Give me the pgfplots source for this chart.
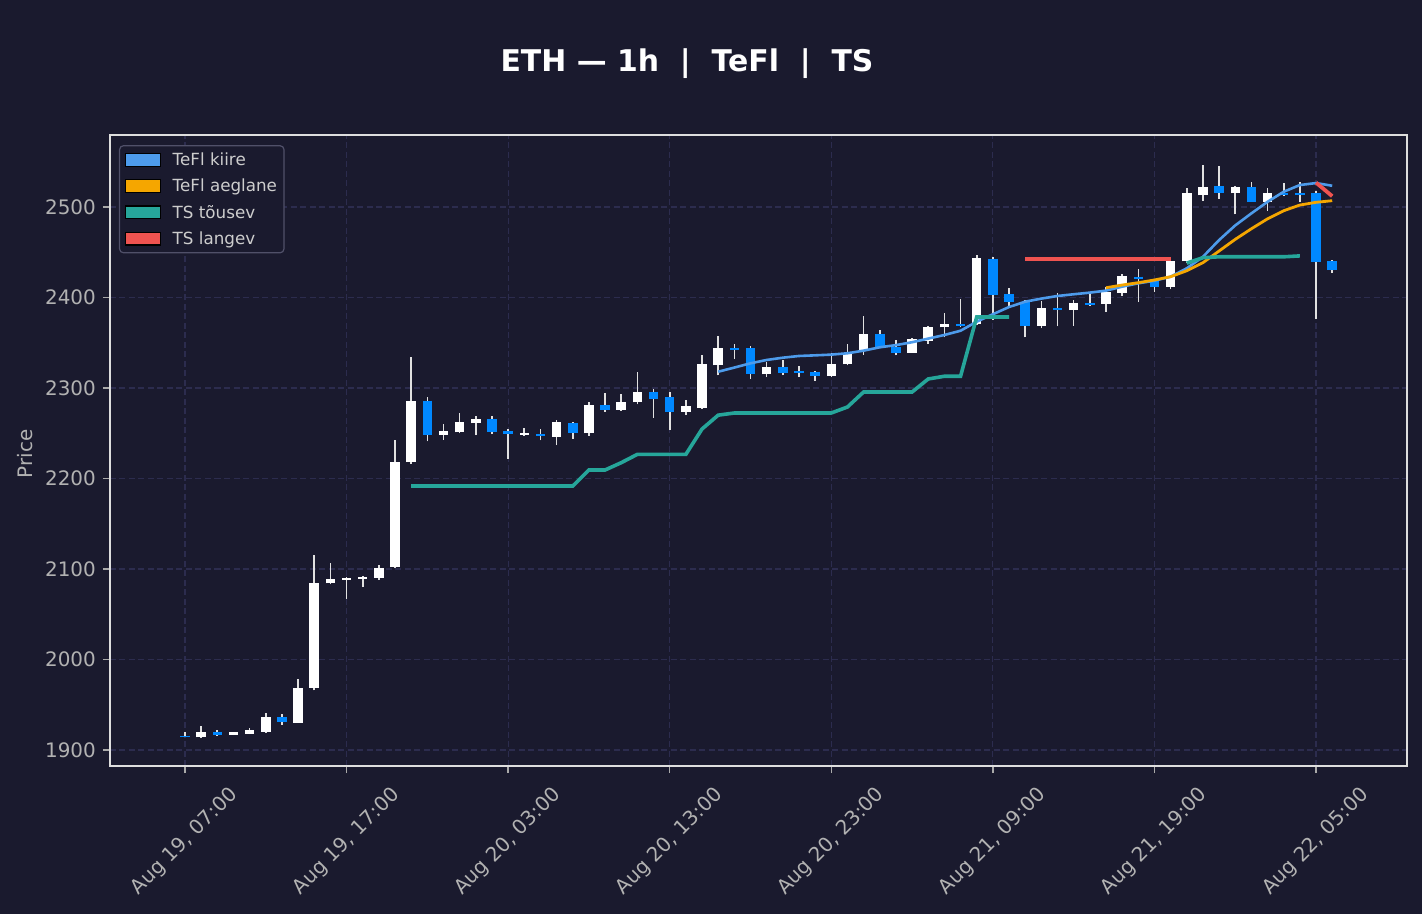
\documentclass[border=0pt]{standalone}
\usepackage{fontspec}
\setmainfont{DejaVu Sans}
\usepackage{pgfplots}
\usepackage{pgfplotstable}
\pgfplotsset{compat=1.18}

\definecolor{bgcol}{RGB}{26,26,46}
\definecolor{gridcol}{RGB}{44,44,78}
\definecolor{framecol}{RGB}{222,222,222}
\definecolor{tickcol}{RGB}{170,170,170}
\definecolor{labelcol}{RGB}{178,178,178}
\definecolor{upcol}{RGB}{255,255,255}
\definecolor{downcol}{RGB}{0,136,255}
\definecolor{wickcol}{RGB}{225,225,225}
\definecolor{fastcol}{RGB}{77,155,235}
\definecolor{slowcol}{RGB}{245,166,0}
\definecolor{tsupcol}{RGB}{38,166,154}
\definecolor{tsdncol}{RGB}{239,83,80}
\definecolor{legframe}{RGB}{80,80,105}
\definecolor{legtext}{RGB}{205,205,205}

% hourly candles, i = hours since Aug 19 07:00
\pgfplotstableread{
i o h l c
1 1914 1927 1913 1920
3 1917 1920 1916.5 1919.5
4 1918 1924 1917.5 1922
5 1920 1941 1919 1937
7 1930 1978 1930 1969
8 1969 2116 1966 2085
9 2084 2107 2083 2089
10 2088 2091 2067 2090.5
11 2089 2092 2080 2091.5
12 2090.5 2104 2088 2101.5
13 2102 2243 2101 2218
14 2218 2334 2216 2286
16 2248 2260 2243 2252
17 2251 2272 2250 2262
18 2261 2269 2248 2266
21 2248.5 2256 2247 2250.5
23 2246 2265 2237 2262
25 2250 2284 2247 2281
27 2276 2293 2275 2284
28 2284 2318 2282 2296
31 2274 2287 2270 2280
32 2278 2336 2277 2326
33 2325 2357 2314 2344
36 2315 2329 2312 2323
40 2313 2339 2312 2327
41 2326 2349 2325 2339
42 2341 2380 2337 2360
45 2339 2355 2339 2354
46 2352 2368 2349 2367
47 2367 2383 2356 2371
49 2371 2447 2370 2444
53 2369 2396 2366 2388
55 2386 2397 2369 2394
57 2393 2412 2384 2406
58 2405 2426 2402 2424
61 2412 2445 2409 2440
62 2440 2521 2438 2515
63 2513 2546 2507 2522
65 2515 2523 2492 2522
67 2506 2521 2496 2515
}\upcandles

\pgfplotstableread{
i o h l c
0 1916 1919.5 1914 1914
2 1920 1922 1916 1917
6 1936 1940 1928 1931
15 2286 2290 2241 2248
19 2266 2269 2249 2251
20 2252.5 2255 2222 2249
22 2249 2255 2242 2247
24 2261 2262 2244 2250
26 2281 2294 2274 2276
29 2296 2299 2267 2288
30 2290 2296 2254 2273
34 2344 2349 2332 2342
35 2344 2346 2310 2315
37 2323 2331 2314 2317
38 2319 2324 2312 2317
39 2318 2319 2308 2313
43 2360 2364 2344 2345
44 2345 2353 2336 2339
48 2371 2398 2367 2368
50 2443 2445 2375 2403
51 2404 2410 2391 2395
52 2395 2397 2356 2369
54 2388 2405 2368 2386
56 2394 2406 2391 2392
59 2423 2431 2395 2420
60 2419 2421 2406 2412
64 2523 2545 2509 2515
66 2522 2528 2506 2506
68 2515 2527 2512 2513
69 2515 2528 2506 2513
70 2515 2518 2376 2439
71 2440 2442 2427 2430
}\downcandles

\begin{document}
\begin{tikzpicture}
\fill[bgcol] (-110bp,-148bp) rectangle (1312bp,766bp);
\begin{axis}[
    at={(0,0)}, anchor=south west,
    scale only axis, width=1297bp, height=631bp,
    xmin=-4.64, xmax=75.63,
    ymin=1882.3, ymax=2579.6,
    axis background/.style={fill=bgcol},
    axis line style={draw=framecol, line width=1.7bp},
    tick align=outside, major tick length=7bp,
    tick style={draw=tickcol, line width=1.3bp},
    xtick pos=bottom, ytick pos=left,
    grid=major,
    major grid style={draw=gridcol, line width=1.2bp, dash pattern=on 6bp off 3.5bp},
    xtick={0,10,...,70},
    xticklabels={{Aug 19, 07:00},{Aug 19, 17:00},{Aug 20, 03:00},{Aug 20, 13:00},
                 {Aug 20, 23:00},{Aug 21, 09:00},{Aug 21, 19:00},{Aug 22, 05:00}},
    ytick={1900,2000,...,2500},
    /pgf/number format/1000 sep={},
    /pgf/number format/assume math mode=true,
    xticklabel style={font=\fontsize{20}{24}\selectfont, text=labelcol,
        inner sep=0pt, xshift=43bp, yshift=-12bp, rotate=45, anchor=north east},
    yticklabel style={font=\fontsize{20}{24}\selectfont, text=labelcol,
        inner sep=0pt, anchor=east, xshift=-7bp},
    ylabel={Price},
    every axis y label/.style={at={(axis description cs:-0.0655,0.4945)},
        rotate=90, anchor=center, font=\fontsize{20}{24}\selectfont, text=labelcol},
    legend style={at={(0.0069,0.984)}, anchor=north west,
        draw=legframe, line width=1.2bp, fill=bgcol, rounded corners=4bp,
        text=legtext, font=\fontsize{16.8}{20.5}\selectfont,
        inner xsep=5bp, inner ysep=5bp, row sep=8bp,
        cells={anchor=west}, nodes={inner sep=2bp},
        /tikz/every odd column/.append style={column sep=10bp}},
    legend image code/.code={\fill[sharp corners, #1] (0bp,-6.3bp) rectangle (35bp,6.3bp);},
    clip=true,
]
% wicks
\addplot[wickcol, line width=1.6bp, forget plot,
    quiver={u=0, v=\thisrow{h}-\thisrow{l}}] table[x=i, y=l] {\upcandles};
\addplot[wickcol, line width=1.6bp, forget plot,
    quiver={u=0, v=\thisrow{h}-\thisrow{l}}] table[x=i, y=l] {\downcandles};
% bodies
\addplot[upcol, line width=9.5bp, forget plot,
    quiver={u=0, v=\thisrow{c}-\thisrow{o}}] table[x=i, y=o] {\upcandles};
\addplot[downcol, line width=9.5bp, forget plot,
    quiver={u=0, v=\thisrow{c}-\thisrow{o}}] table[x=i, y=o] {\downcandles};

% TeFl kiire
\addplot[fastcol, line width=2.6bp, forget plot] coordinates {
    (33,2318) (34,2322.6) (35,2327.3) (36,2331) (37,2333.5) (38,2335.4)
    (39,2336.1) (40,2336.9) (41,2338.4) (42,2341.3) (43,2345) (44,2347.4)
    (45,2350.6) (46,2354.6) (47,2358.6) (48,2363.3) (49,2373.3) (50,2381.5)
    (51,2389.5) (52,2395.4) (53,2398.8) (54,2401.7) (55,2403.6) (56,2405.4)
    (57,2407.6) (58,2412) (59,2415.7) (60,2418.6) (61,2423) (62,2432.3)
    (63,2445) (64,2463.5) (65,2479.7) (66,2493) (67,2505.8) (68,2516.9)
    (69,2524.3) (70,2526.5) (71,2523.5)
};
% TeFl aeglane
\addplot[slowcol, line width=2.8bp, forget plot] coordinates {
    (57,2410.8) (58,2413.8) (59,2416.4) (60,2419.4) (61,2423) (62,2429.6)
    (63,2438.5) (64,2451.4) (65,2464.3) (66,2476) (67,2487) (68,2495.9)
    (69,2502.2) (70,2505.2) (71,2507)
};
% TS tousev
\addplot[tsupcol, line width=3.6bp, forget plot] coordinates {
    (14,2191.7) (15,2191.7) (16,2191.7) (17,2191.7) (18,2191.7) (19,2191.7)
    (20,2191.7) (21,2191.7) (22,2191.7) (23,2191.7) (24,2191.7) (25,2209.4)
    (26,2209.4) (27,2217.5) (28,2226.7) (29,2226.7) (30,2226.7) (31,2226.7)
    (32,2254.7) (33,2270) (34,2272.4) (35,2272.4) (36,2272.4) (37,2272.4)
    (38,2272.4) (39,2272.4) (40,2272.4) (41,2279) (42,2295.6) (43,2295.6)
    (44,2295.6) (45,2295.6) (46,2310) (47,2313) (48,2313) (49,2378.5)
    (50,2378.5) (51,2378.5)
};
\addplot[tsupcol, line width=3.6bp, forget plot] coordinates {
    (62,2438) (63,2444) (64,2445) (65,2445) (66,2445) (67,2445) (68,2445) (69,2446)
};
% TS langev
\addplot[tsdncol, line width=3.8bp, forget plot] coordinates {
    (52,2442.5) (53,2442.5) (54,2442.5) (55,2442.5) (56,2442.5)
    (57,2442.5) (58,2442.5) (59,2442.5) (60,2442.5) (61,2442.5)
};
\addplot[tsdncol, line width=3.8bp, forget plot] coordinates {
    (70,2527) (71,2512)
};

\addlegendimage{fill=fastcol}
\addlegendentry{TeFl kiire}
\addlegendimage{fill=slowcol}
\addlegendentry{TeFl aeglane}
\addlegendimage{fill=tsupcol}
\addlegendentry{TS tõusev}
\addlegendimage{fill=tsdncol}
\addlegendentry{TS langev}
\end{axis}
\node[anchor=base, text=white, font=\fontsize{30}{36}\selectfont\bfseries]
    at (577bp,694.3bp) {ETH — 1h~~|~~TeFl~~|~~TS};
\pgfresetboundingbox
\useasboundingbox (-110bp,-148bp) rectangle (1312bp,766bp);
\end{tikzpicture}
\end{document}
